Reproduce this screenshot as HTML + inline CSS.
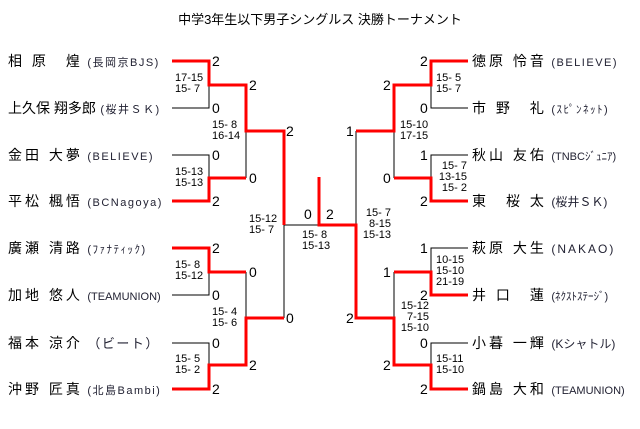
<!DOCTYPE html>
<html><head><meta charset="utf-8"><style>
body{margin:0;width:640px;height:429px;background:#fff;position:relative;overflow:hidden;font-family:"Liberation Sans","Noto Sans CJK JP",sans-serif;color:#000}
.t{position:absolute;white-space:nowrap}
.n{font-size:14px;letter-spacing:3px;line-height:18px}
.tm{font-size:11px;letter-spacing:1.5px;color:#223;line-height:18px}
.s{font-size:14px;line-height:16px}
.m{font-size:11px;line-height:11px}
.r{text-align:right}
</style></head><body>
<div class="t" style="left:0;width:640px;text-align:center;top:9px;font-size:13px">中学3年生以下男子シングルス 決勝トーナメント</div>
<svg width="640" height="429" style="position:absolute;left:0;top:0">
<g stroke="#000" stroke-width="1" fill="none">
<path d="M172 108H209V85M172 155H209V178M172 295H209V272M172 343H209V365"/>
<path d="M246 131V178M246 272V318M284 225V318M284 225H319M356 131V225"/>
<path d="M468 108H431V85M468 155H431V178M468 248H431V272M468 343H431V365M394 131V178M394 272V318"/>
</g>
<g stroke="#f00" stroke-width="3" fill="none">
<path d="M172 61H209V85H246V131H284V225"/>
<path d="M172 201H209V178H246"/>
<path d="M172 248H209V272H246"/>
<path d="M172 389H209V365H246V318H284"/>
<path d="M319 177V225H356V318H394V365H431V389H468"/>
<path d="M356 131H394V85H431V61H468"/>
<path d="M394 178H431V201H468"/>
<path d="M394 272H431V295H468"/>
</g>
</svg>
<!-- left names -->
<div class="t" style="left:8px;top:52px"><span class="n">相 原　煌</span> <span class="tm">(長岡京BJS)</span></div>
<div class="t" style="left:8px;top:99px"><span class="n" style="letter-spacing:0">上久保 翔多郎</span> <span class="tm">(桜井ＳＫ)</span></div>
<div class="t" style="left:8px;top:146px"><span class="n">金田 大夢</span> <span class="tm">(BELIEVE)</span></div>
<div class="t" style="left:8px;top:192px"><span class="n">平松 楓悟</span> <span class="tm">(BCNagoya)</span></div>
<div class="t" style="left:8px;top:239px"><span class="n">廣瀬 清路</span> <span class="tm">(ﾌｧﾅﾃｨｯｸ)</span></div>
<div class="t" style="left:8px;top:286px"><span class="n">加地 悠人</span> <span class="tm" style="letter-spacing:0">(TEAMUNION)</span></div>
<div class="t" style="left:8px;top:334px"><span class="n">福本 涼介</span> <span class="tm" style="font-size:13px">（ビート）</span></div>
<div class="t" style="left:8px;top:380px"><span class="n">沖野 匠真</span> <span class="tm">(北島Bambi)</span></div>
<!-- right names -->
<div class="t" style="left:472px;top:52px"><span class="n">徳原 怜音</span> <span class="tm">(BELIEVE)</span></div>
<div class="t" style="left:472px;top:99px"><span class="n">市 野　礼</span> <span class="tm">(ｽﾋﾟﾝﾈｯﾄ)</span></div>
<div class="t" style="left:472px;top:146px"><span class="n">秋山 友佑</span> <span class="tm" style="letter-spacing:0">(TNBCｼﾞｭﾆｱ)</span></div>
<div class="t" style="left:472px;top:192px"><span class="n">東　桜 太</span> <span class="tm" style="font-size:12px;letter-spacing:0">(桜井ＳＫ)</span></div>
<div class="t" style="left:472px;top:239px"><span class="n">萩原 大生</span> <span class="tm" style="font-size:12px;letter-spacing:2px">(NAKAO)</span></div>
<div class="t" style="left:472px;top:286px"><span class="n">井 口　蓮</span> <span class="tm" style="letter-spacing:0">(ﾈｸｽﾄｽﾃｰｼﾞ)</span></div>
<div class="t" style="left:472px;top:334px"><span class="n">小暮 一輝</span> <span class="tm" style="font-size:12px;letter-spacing:0">(Kシャトル)</span></div>
<div class="t" style="left:472px;top:380px"><span class="n">鍋島 大和</span> <span class="tm" style="letter-spacing:0">(TEAMUNION)</span></div>
<!-- scores left -->
<div class="t s" style="left:212px;top:53px">2</div>
<div class="t s" style="left:212px;top:100px">0</div>
<div class="t s" style="left:212px;top:147px">0</div>
<div class="t s" style="left:212px;top:193px">2</div>
<div class="t s" style="left:212px;top:240px">2</div>
<div class="t s" style="left:212px;top:287px">0</div>
<div class="t s" style="left:212px;top:335px">0</div>
<div class="t s" style="left:212px;top:381px">2</div>
<div class="t s" style="left:249px;top:77px">2</div>
<div class="t s" style="left:249px;top:170px">0</div>
<div class="t s" style="left:249px;top:264px">0</div>
<div class="t s" style="left:249px;top:357px">2</div>
<div class="t s" style="left:286px;top:123px">2</div>
<div class="t s" style="left:286px;top:310px">0</div>
<div class="t s" style="left:304px;top:206px">0</div>
<div class="t s" style="left:326px;top:206px">2</div>
<!-- scores right -->
<div class="t s" style="left:420px;top:53px">2</div>
<div class="t s" style="left:420px;top:100px">0</div>
<div class="t s" style="left:420px;top:147px">1</div>
<div class="t s" style="left:420px;top:193px">2</div>
<div class="t s" style="left:420px;top:240px">1</div>
<div class="t s" style="left:420px;top:287px">2</div>
<div class="t s" style="left:420px;top:335px">0</div>
<div class="t s" style="left:420px;top:381px">2</div>
<div class="t s" style="left:383px;top:77px">2</div>
<div class="t s" style="left:383px;top:170px">0</div>
<div class="t s" style="left:383px;top:264px">1</div>
<div class="t s" style="left:383px;top:357px">2</div>
<div class="t s" style="left:346px;top:123px">1</div>
<div class="t s" style="left:346px;top:310px">2</div>
<!-- match scores -->
<div class="t m" style="left:175px;top:73px">17-15<br>15- 7</div>
<div class="t m" style="left:175px;top:167px">15-13<br>15-13</div>
<div class="t m" style="left:175px;top:260px">15- 8<br>15-12</div>
<div class="t m" style="left:175px;top:354px">15- 5<br>15- 2</div>
<div class="t m" style="left:212px;top:120px">15- 8<br>16-14</div>
<div class="t m" style="left:212px;top:307px">15- 4<br>15- 6</div>
<div class="t m" style="left:249px;top:214px">15-12<br>15- 7</div>
<div class="t m" style="left:302px;top:230px">15- 8<br>15-13</div>
<div class="t m r" style="left:360px;width:31px;top:208px">15- 7<br>8-15<br>15-13</div>
<div class="t m" style="left:400px;top:120px">15-10<br>17-15</div>
<div class="t m r" style="left:398px;width:31px;top:301px">15-12<br>7-15<br>15-10</div>
<div class="t m" style="left:436px;top:73px">15- 5<br>15- 7</div>
<div class="t m r" style="left:436px;width:31px;top:161px">15- 7<br>13-15<br>15- 2</div>
<div class="t m" style="left:436px;top:255px">10-15<br>15-10<br>21-19</div>
<div class="t m" style="left:436px;top:354px">15-11<br>15-10</div>
</body></html>
